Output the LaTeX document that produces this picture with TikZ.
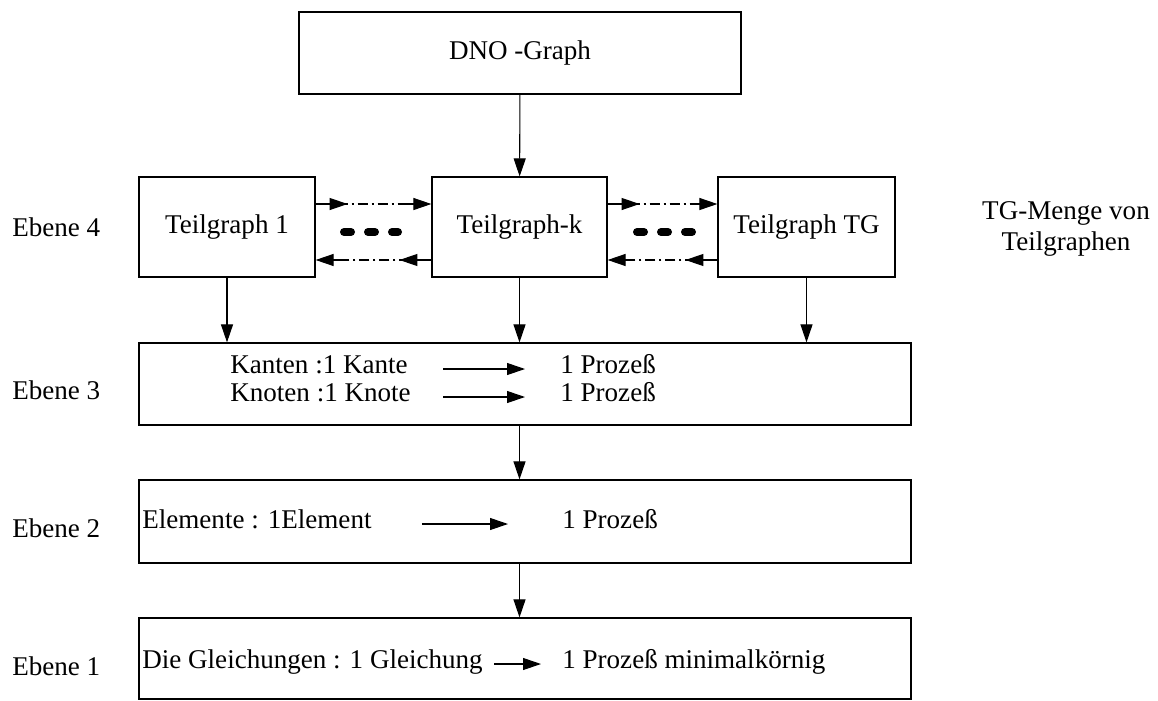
\documentclass[tikz,border=0pt]{standalone}
\usepackage{fontspec}
\setmainfont{Liberation Serif}
\usetikzlibrary{arrows.meta,positioning,decorations.markings}

\tikzset{
  box/.style={draw,line width=0.7pt,inner sep=0pt},
  txt/.style={inner sep=0pt,anchor=west,text height=1.5ex,text depth=0.3ex},
  lvl/.style={inner sep=0pt,anchor=west},
  tip/.style={-{Triangle[length=0.36cm,width=0.24cm]},line width=0.6pt},
  link/.style={tip,dash pattern=on 0.64cm off 0.08cm on 0.04cm off 0.08cm on 0.2cm off 0.08cm on 0.04cm off 0.08cm on 0.2cm off 0.08cm on 0.04cm off 0.08cm on 3cm,
    postaction={decorate},
    decoration={markings,mark=at position 0.64cm with {\arrow{Triangle[length=0.36cm,width=0.24cm]}}}},
  dots/.style={line width=0.16cm,line cap=round,dash pattern=on 0.14cm off 0.34cm}
}

\begin{document}
\begin{tikzpicture}[x=0.02cm,y=-0.02cm,font=\fontsize{15.4}{17.7}\selectfont]
  \useasboundingbox (0,0) rectangle (1158,700);

  % boxes
  \node[box,minimum width=8.84cm,minimum height=1.64cm] (dno) at (520,53) {DNO -Graph};
  \node[box,minimum width=3.52cm,minimum height=2cm] (t1) at (227,227) {Teilgraph 1};
  \node[box,minimum width=3.5cm,minimum height=2cm] (tk) at (519.5,227) {Teilgraph-k};
  \node[box,minimum width=3.54cm,minimum height=2cm] (tg) at (806.5,227) {Teilgraph TG};
  \node[box,minimum width=15.44cm,minimum height=1.64cm] (e3) at (525,384) {};
  \node[box,minimum width=15.44cm,minimum height=1.66cm] (e2) at (525,521.5) {};
  \node[box,minimum width=15.44cm,minimum height=1.62cm] (e1) at (525,658.5) {};

  % levels
  \node[lvl] (l4) at (12,227) {Ebene 4};
  \node[lvl] (l3) at (12,390) {Ebene 3};
  \node[lvl] (l2) at (12,528) {Ebene 2};
  \node[lvl] (l1) at (12,666) {Ebene 1};
  \node[align=center,inner sep=0pt] (menge) at (1066,229) {TG-Menge von\\Teilgraphen};

  % texts in the boxes
  \node[txt] (kan) at (230,369) {Kanten :1 Kante};
  \node[txt] (pk1) at (560,369) {1 Proze\ss};
  \node[txt] (kno) at (230,397) {Knoten :1 Knote};
  \node[txt] (pk2) at (560,397) {1 Proze\ss};
  \node[txt] (ele) at (142,524) {Elemente : 1Element};
  \node[txt] (pe) at (562,524) {1 Proze\ss};
  \node[txt] (gl) at (142,664) {Die Gleichungen : 1 Gleichung};
  \node[txt] (pg) at (562,664) {1 Proze\ss{} minimalk\"ornig};

  \draw[tip,shorten <=0.7cm,shorten >=0.7cm] (kan) -- (pk1);
  \draw[tip,shorten <=0.64cm,shorten >=0.7cm] (kno) -- (pk2);
  \draw[tip,shorten <=1cm,shorten >=1.08cm] (ele) -- (pe);
  \draw[tip,shorten <=0.22cm,shorten >=0.42cm] (gl) -- (pg);

  % flow
  \draw[tip] (dno) -- (tk);
  \draw[tip] (t1.south) -- (t1.south |- e3.north);
  \draw[tip] (tk.south) -- (tk.south |- e3.north);
  \draw[tip] (tg.south) -- (tg.south |- e3.north);
  \draw[tip] (tk.south |- e3.south) -- (tk.south |- e2.north);
  \draw[tip] (tk.south |- e2.south) -- (tk.south |- e1.north);

  \draw[link] ([yshift=0.46cm]t1.east) -- ([yshift=0.46cm]tk.west);
  \draw[link] ([yshift=-0.66cm]tk.west) -- ([yshift=-0.66cm]t1.east);
  \draw[link] ([yshift=0.46cm]tk.east) -- ([yshift=0.46cm]tg.west);
  \draw[link] ([yshift=-0.66cm]tg.west) -- ([yshift=-0.66cm]tk.east);

  \draw[dots] (344,232) -- (398,232);
  \draw[dots] (637,232) -- (693,232);
\end{tikzpicture}
\end{document}
